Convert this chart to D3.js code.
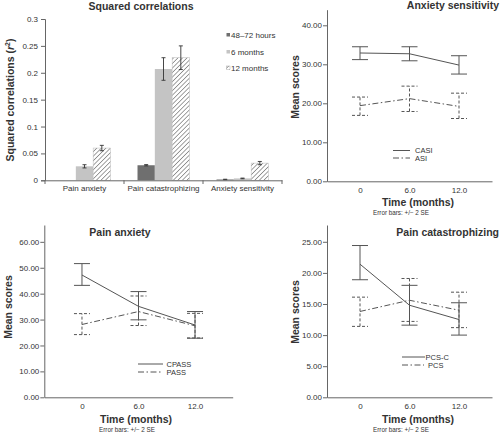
<!DOCTYPE html>
<html><head><meta charset="utf-8">
<script src="https://cdn.jsdelivr.net/npm/d3@7"></script>
<style>
body{margin:0;background:#fff;}
svg{display:block;font-family:"Liberation Sans",Arial,sans-serif;}
</style></head>
<body><svg id="c" width="500" height="434"></svg>
<script>
// ---------- data ----------
const barCategories = ["Pain anxiety", "Pain catastrophizing", "Anxiety sensitivity"];
const barSeries = ["48\u201372 hours", "6 months", "12 months"];
const r2_48h = [0, 0.028, 0.0015];
const r2_48h_err = [0, 0.0012, 0.0005];
const r2_6m = [0.026, 0.207, 0.0035];
const r2_6m_err = [0.003, 0.021, 0.0006];
const r2_12m = [0.060, 0.228, 0.032];
const r2_12m_err = [0.005, 0.022, 0.003];
const barTicks = [0, 0.05, 0.1, 0.15, 0.2, 0.25, 0.3];

const timePoints = [0, 6, 12];
const timeTickLabels = ["0", "6.0", "12.0"];

const CASI = [32.9, 32.7, 29.8], CASI_lo = [31.2, 30.9, 27.5], CASI_hi = [34.5, 34.5, 32.2];
const ASI = [19.4, 21.2, 19.2], ASI_lo = [16.9, 17.9, 16.1], ASI_hi = [21.6, 24.4, 22.6];
const CPASS = [47.2, 35.1, 27.9], CPASS_lo = [43.2, 29.9, 22.8], CPASS_hi = [51.6, 40.8, 33.1];
const PASS = [28.1, 33.1, 27.6], PASS_lo = [24.2, 27.7, 22.9], PASS_hi = [32.3, 39.1, 32.4];
const PCSC = [21.4, 14.8, 12.5], PCSC_lo = [18.9, 11.6, 10.0], PCSC_hi = [24.4, 18.0, 15.2];
const PCS = [13.8, 15.6, 14.0], PCS_lo = [11.4, 12.2, 11.2], PCS_hi = [16.1, 19.1, 16.9];

const ticksAS = [0, 10, 20, 30, 40];
const ticksPA = [0, 10, 20, 30, 40, 50, 60];
const ticksPC = [0, 5, 10, 15, 20, 25];

// ---------- drawing ----------
const svg = d3.select("#c");
const TXT = "#333", AX = "#666", LN = "#555";

const defs = svg.append("defs");
const pat = defs.append("pattern").attr("id", "hatch").attr("patternUnits", "userSpaceOnUse")
  .attr("width", 3.2).attr("height", 3.2).attr("patternTransform", "rotate(45)");
pat.append("rect").attr("width", 3.2).attr("height", 3.2).attr("fill", "#fff");
pat.append("line").attr("x1", 0).attr("y1", 0).attr("x2", 0).attr("y2", 3.2)
  .attr("stroke", "#8a8a8a").attr("stroke-width", 1.6);

// ===== Panel 1: bar chart =====
(function () {
  const g = svg.append("g");
  const x0 = d3.scaleBand().domain(barCategories).range([45, 282]).paddingInner(0).paddingOuter(0);
  const x1 = d3.scaleBand().domain(barSeries).range([0, x0.bandwidth()]).paddingInner(0).paddingOuter(0.78);
  const y = d3.scaleLinear().domain([0, 0.3]).range([180.3, 19]);

  const yAx = g.append("g").attr("transform", "translate(45,0)")
    .call(d3.axisLeft(y).tickValues(barTicks).tickSize(4).tickPadding(3).tickFormat(d => d3.format("")(+d.toFixed(2))));
  yAx.select(".domain").attr("stroke", AX);
  yAx.selectAll("line").attr("stroke", AX);
  yAx.selectAll("text").attr("fill", TXT).style("font-size", "8px").style("font-family", "Liberation Sans, Arial");

  const values = [r2_48h, r2_6m, r2_12m];
  const errs = [r2_48h_err, r2_6m_err, r2_12m_err];
  const fills = ["#6f6f6f", "#c4c4c4", "url(#hatch)"];
  barSeries.forEach((s, si) => {
    barCategories.forEach((c, ci) => {
      const v = values[si][ci];
      if (v <= 0) return;
      const bx = x0(c) + x1(s), bw = x1.bandwidth();
      g.append("rect").attr("x", bx).attr("y", y(v)).attr("width", bw).attr("height", y(0) - y(v))
        .attr("fill", fills[si]).attr("stroke", si === 2 ? "#bbb" : "none").attr("stroke-width", 0.5);
      const e = errs[si][ci], cx = bx + bw / 2;
      const eg = g.append("g").attr("stroke", "#333").attr("stroke-width", 0.9);
      eg.append("line").attr("x1", cx).attr("x2", cx).attr("y1", y(v - e)).attr("y2", y(v + e));
      eg.append("line").attr("x1", cx - 2).attr("x2", cx + 2).attr("y1", y(v - e)).attr("y2", y(v - e));
      eg.append("line").attr("x1", cx - 2).attr("x2", cx + 2).attr("y1", y(v + e)).attr("y2", y(v + e));
    });
  });

  const xAx = g.append("g").attr("transform", "translate(0,180.3)")
    .call(d3.axisBottom(x0).tickSize(0).tickPadding(5));
  xAx.select(".domain").attr("stroke", AX);
  xAx.selectAll("text").attr("fill", TXT).style("font-size", "8px").style("font-family", "Liberation Sans, Arial");
  const bounds = barCategories.map(c => x0(c)).concat([x0.range()[1]]);
  g.selectAll(".bt").data(bounds).enter().append("line")
    .attr("x1", d => d).attr("x2", d => d).attr("y1", 180.3).attr("y2", 184).attr("stroke", AX);

  g.append("text").attr("x", 141).attr("y", 10).attr("text-anchor", "middle")
    .attr("font-weight", "bold").attr("font-size", 10.5).attr("fill", TXT).text("Squared correlations");
  const yt = g.append("text").attr("transform", "translate(14,100) rotate(-90)").attr("text-anchor", "middle")
    .attr("font-weight", "bold").attr("font-size", 10.5).attr("fill", TXT);
  yt.append("tspan").text("Squared correlations (");
  yt.append("tspan").attr("font-style", "italic").text("r");
  yt.append("tspan").attr("font-size", 7).attr("dy", -4).text("2");
  yt.append("tspan").attr("dy", 4).text(")");

  const legFills = ["#6f6f6f", "#c4c4c4", "url(#hatch)"];
  const legY = [35, 52, 68];
  barSeries.forEach((s, i) => {
    g.append("rect").attr("x", 226.5).attr("y", legY[i] - 2).attr("width", 3.5).attr("height", 3.5)
      .attr("fill", legFills[i]).attr("stroke", i === 2 ? "#999" : "none").attr("stroke-width", 0.4);
    g.append("text").attr("x", 231).attr("y", legY[i] + 3).attr("font-size", 8).attr("fill", TXT).text(s);
  });
})();

// ===== line panels =====
function linePanel(o) {
  const g = svg.append("g");
  const x = d3.scaleLinear().domain([-4, 16]).range(o.xr);
  const y = d3.scaleLinear().domain([0, o.ymax]).range([o.y0, o.ytop]);
  const yAx = g.append("g").attr("transform", `translate(${o.xr[0]},0)`)
    .call(d3.axisLeft(y).tickValues(o.ticks).tickSize(4).tickSizeOuter(0).tickPadding(1).tickFormat(d3.format(".2f")));
  yAx.select(".domain").attr("stroke", AX);
  yAx.selectAll("line").attr("stroke", AX);
  yAx.selectAll("text").attr("fill", TXT).style("font-size", "8px").style("font-family", "Liberation Sans, Arial");
  const xAx = g.append("g").attr("transform", `translate(0,${o.y0})`)
    .call(d3.axisBottom(x).tickValues(timePoints).tickSize(0).tickSizeOuter(0).tickPadding(6.5)
      .tickFormat((d, i) => timeTickLabels[i]));
  xAx.select(".domain").attr("stroke", AX);
  xAx.selectAll("text").attr("fill", TXT).style("font-size", "8px").style("font-family", "Liberation Sans, Arial");

  o.series.forEach(s => {
    const dash = s.dashed ? "6,2.5,1.5,2.5" : null;
    const pts = timePoints.map((t, i) => [x(t), y(s.v[i])]);
    g.append("path").attr("d", d3.line()(pts)).attr("fill", "none").attr("stroke", LN)
      .attr("stroke-width", 1).attr("stroke-dasharray", dash);
    const eg = g.append("g").attr("stroke", LN).attr("stroke-width", 1)
      .attr("stroke-dasharray", s.dashed ? "3,2" : null);
    timePoints.forEach((t, i) => {
      const cx = x(t), lo = y(s.lo[i]), hi = y(s.hi[i]);
      eg.append("line").attr("x1", cx).attr("x2", cx).attr("y1", lo).attr("y2", hi);
      eg.append("line").attr("x1", cx - 8).attr("x2", cx + 8).attr("y1", lo).attr("y2", lo);
      eg.append("line").attr("x1", cx - 8).attr("x2", cx + 8).attr("y1", hi).attr("y2", hi);
    });
    g.append("line").attr("x1", s.leg[0]).attr("x2", s.leg[1]).attr("y1", s.leg[2]).attr("y2", s.leg[2])
      .attr("stroke", LN).attr("stroke-dasharray", dash);
    g.append("text").attr("x", s.leg[3]).attr("y", s.leg[2] + 2.8).attr("font-size", 7.5).attr("fill", TXT).text(s.name);
  });

  g.append("text").attr("x", o.title[1]).attr("y", o.title[2]).attr("text-anchor", o.title[3])
    .attr("font-weight", "bold").attr("font-size", 10.5).attr("fill", TXT).text(o.title[0]);
  g.append("text").attr("transform", `translate(${o.yt[0]},${o.yt[1]}) rotate(-90)`).attr("text-anchor", "middle")
    .attr("font-weight", "bold").attr("font-size", 10.5).attr("fill", TXT).text("Mean scores");
  g.append("text").attr("x", o.xt[0]).attr("y", o.xt[1]).attr("text-anchor", "middle")
    .attr("font-weight", "bold").attr("font-size", 10.5).attr("fill", TXT).text("Time (months)");
  g.append("text").attr("x", o.eb[0]).attr("y", o.eb[1]).attr("text-anchor", "middle")
    .attr("font-size", 6.3).attr("fill", TXT).text("Error bars: +/\u2212 2 SE");
}

linePanel({
  xr: [327, 492], y0: 181.3, ytop: 9.7, ymax: 44, ticks: ticksAS,
  series: [
    { name: "CASI", v: CASI, lo: CASI_lo, hi: CASI_hi, dashed: false, leg: [393, 410, 150.5, 415] },
    { name: "ASI", v: ASI, lo: ASI_lo, hi: ASI_hi, dashed: true, leg: [393, 410, 158, 415] }
  ],
  title: ["Anxiety sensitivity", 499, 9, "end"], yt: [299, 87], xt: [418, 206], eb: [401, 215]
});
linePanel({
  xr: [44.3, 232.7], y0: 397.3, ytop: 225, ymax: 66.5, ticks: ticksPA,
  series: [
    { name: "CPASS", v: CPASS, lo: CPASS_lo, hi: CPASS_hi, dashed: false, leg: [138, 163, 364, 166.5] },
    { name: "PASS", v: PASS, lo: PASS_lo, hi: PASS_hi, dashed: true, leg: [138, 163, 372, 166.5] }
  ],
  title: ["Pain anxiety", 120, 236, "middle"], yt: [12, 307], xt: [136, 422.5], eb: [127, 432]
});
linePanel({
  xr: [327, 492], y0: 397.3, ytop: 225, ymax: 27.7, ticks: ticksPC,
  series: [
    { name: "PCS-C", v: PCSC, lo: PCSC_lo, hi: PCSC_hi, dashed: false, leg: [402, 425, 357, 425.5] },
    { name: "PCS", v: PCS, lo: PCS_lo, hi: PCS_hi, dashed: true, leg: [402, 424, 365, 428] }
  ],
  title: ["Pain catastrophizing", 499, 236, "end"], yt: [299, 312], xt: [418, 422.5], eb: [401, 432]
});
</script></body></html>
